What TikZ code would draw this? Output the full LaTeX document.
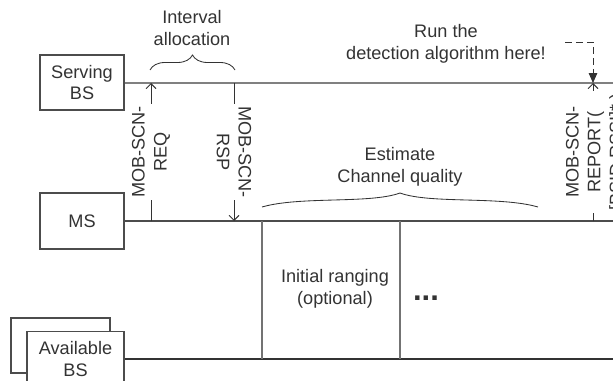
\documentclass[tikz,border=0pt]{standalone}
\usepackage{fontspec}
\setmainfont{Liberation Sans}
\usetikzlibrary{arrows.meta,decorations.pathreplacing}

\tikzset{
  txt/.style={text=black!80,font=\fontsize{12.9}{15.6}\selectfont,align=center,inner sep=1.5pt},
  station/.style={txt,draw=black!70,line width=0.8pt,fill=white},
  msgline/.style={draw=black!80,line width=0.7pt},
  msgarrow/.style={msgline,-{Straight Barb[length=3.5pt,width=7pt]}},
}

\begin{document}
\begin{tikzpicture}[x=0.025cm,y=-0.025cm]
\useasboundingbox (0,0) rectangle (613,381);

% Stations on the left
\node[station,minimum width=84*0.025cm,minimum height=55*0.025cm] (serv) at (82,82.5) {Serving\\BS};
\node[station,minimum width=84*0.025cm,minimum height=56*0.025cm] (ms) at (82,221) {MS};
\node[station,minimum width=99*0.025cm,minimum height=55*0.025cm] (availback) at (60.5,345.5) {};
\node[station,minimum width=97*0.025cm,minimum height=55*0.025cm] (avail) at (75.5,359) {Available\\BS};

% Time lines to the right edge
\coordinate (servend) at (613,83);
\coordinate (msend) at (613,221);
\coordinate (availend) at (613,359);
\draw[black!50,line width=1.4pt] (serv.east |- servend) -- (servend);
\draw[black!70,line width=1.1pt] (ms.east |- msend) -- (msend);
\draw[black!80,line width=1.1pt] (avail.east |- availend) -- (availend);

% Points where the messages meet the lines
\coordinate (req1) at (151,221); \coordinate (req2) at (151,83);
\coordinate (rsp1) at (234,83);  \coordinate (rsp2) at (234,221);
\coordinate (rep1) at (593,221); \coordinate (rep2) at (593,83);

% Message labels
\node[txt,rotate=90] (req) at (151,152) {MOB-SCN-\\REQ};
\node[txt,rotate=-90] (rsp) at (234,152) {MOB-SCN-\\RSP};
\node[txt,rotate=90] (rep) at (596,152) {MOB-SCN-\\REPORT(\\{}[BSID,RSSI]* )};

% Messages (broken by their labels)
\draw[msgline] (req1) -- (req1 |- req.west);
\draw[msgarrow] (req1 |- req.east) -- (req2);
\draw[msgline] (rsp1) -- (rsp1 |- rsp.west);
\draw[msgarrow] (rsp1 |- rsp.east) -- (rsp2);
\draw[msgline] (rep1) -- (rep1 |- rep.west);
\draw[msgarrow] (rep1 |- rep.east) -- (rep2);

% Interval allocation
\node[txt] (interval) at (192,28) {Interval\\allocation};
\draw[black!80,line width=0.6pt,decorate,decoration={brace,amplitude=15*0.025cm}] (150,70) -- (235,70);

% Detection hint (dashed)
\node[txt] (detect) at (446,44) {Run the\\detection algorithm here!};
\coordinate (hint) at (565,42);
\draw[black!80,line width=0.7pt,dash pattern=on 5pt off 2.8pt,-{Triangle[length=7pt,width=6pt]}] (hint) -- (rep2 |- hint) -- (rep2);

% Estimate channel quality
\node[txt] (estimate) at (400,167) {Estimate\\Channel quality};
\draw[black!80,line width=0.6pt] (262,207) .. controls (300,196) and (370,204) .. (400,193)
  .. controls (430,204) and (500,196) .. (538,207);

% Initial ranging slot
\draw[black!55,line width=0.8pt] (262,221) -- (262,359);
\draw[black!55,line width=0.8pt] (400,221) -- (400,359);
\node[txt] (ranging) at (335,289) {Initial ranging\\(optional)};
\node[txt,font=\fontsize{22}{22}\selectfont\bfseries] (more) at (426,298) {...};

\end{tikzpicture}
\end{document}
